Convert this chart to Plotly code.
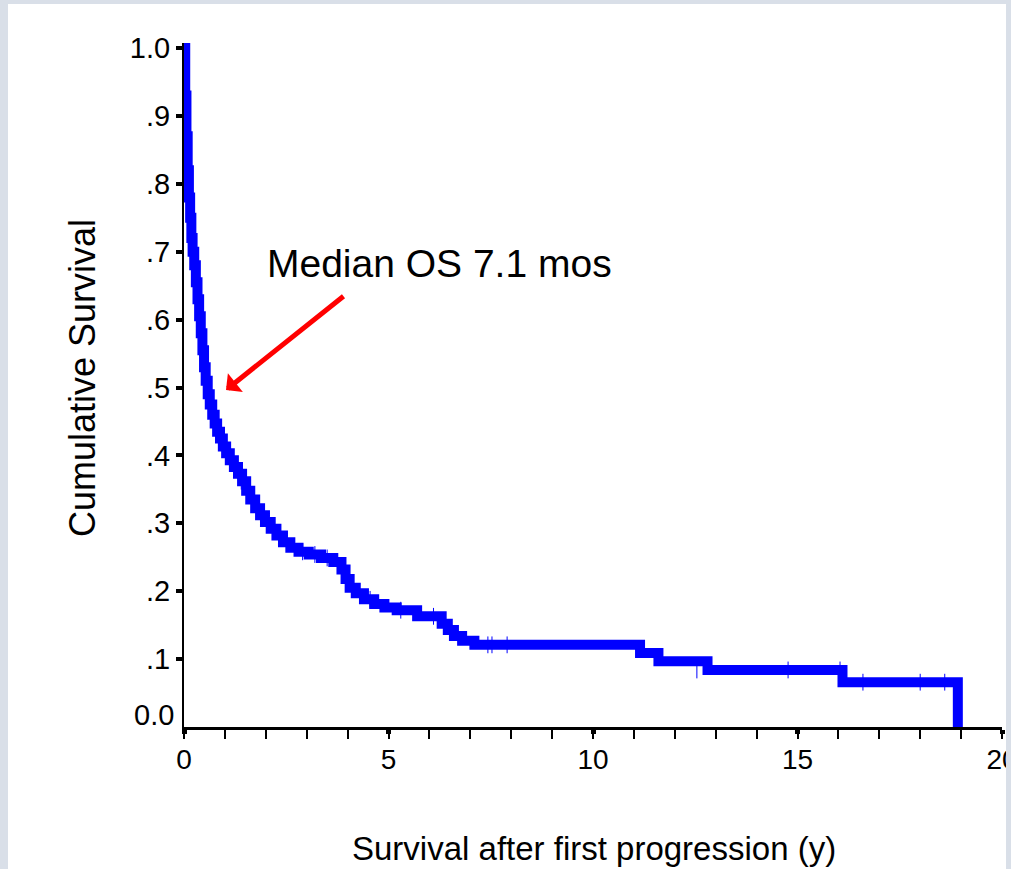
import plotly.graph_objects as go

# Kaplan-Meier steps: event times (years) and survival after each event
event_times = [0.03, 0.06, 0.09, 0.12, 0.15, 0.18, 0.21, 0.25, 0.29, 0.33, 0.37, 0.41,
               0.45, 0.49, 0.53, 0.58, 0.63, 0.69, 0.75, 0.81, 0.88, 0.95, 1.03, 1.12,
               1.22, 1.32, 1.42, 1.52, 1.62, 1.74, 1.86, 1.98, 2.12, 2.26, 2.42, 2.6,
               2.8, 3.05, 3.35, 3.65, 3.85, 3.95, 4.05, 4.2, 4.4, 4.65, 4.9, 5.2, 5.7,
               6.3, 6.45, 6.6, 6.8, 7.1, 11.15, 11.6, 12.8, 16.1, 18.92]
survival = [0.93, 0.87, 0.82, 0.78, 0.75, 0.72, 0.70, 0.68, 0.655, 0.63, 0.605, 0.58,
            0.555, 0.53, 0.51, 0.49, 0.475, 0.46, 0.447, 0.435, 0.425, 0.413, 0.403, 0.393,
            0.383, 0.373, 0.362, 0.348, 0.335, 0.322, 0.312, 0.302, 0.292, 0.282, 0.272, 0.264,
            0.258, 0.254, 0.249, 0.243, 0.232, 0.218, 0.205, 0.197, 0.188, 0.181, 0.176, 0.172, 0.163,
            0.152, 0.143, 0.134, 0.127, 0.121, 0.109, 0.097, 0.084, 0.066, 0.0]

# Censored observations
censor_times = [0.5, 1.4, 2.9, 3.2, 3.5, 4.55, 5.3, 6.1, 7.43, 7.53, 7.9, 12.54, 14.77, 16.04, 16.6, 18.0, 18.6]
censor_surv = [0.53, 0.362, 0.258, 0.254, 0.249, 0.188, 0.172, 0.163, 0.121, 0.121, 0.121, 0.084, 0.084, 0.084, 0.066, 0.066, 0.066]

y_tickvals = [0.1, 0.2, 0.3, 0.4, 0.5, 0.6, 0.7, 0.8, 0.9, 1.0]
y_ticktext = [".1", ".2", ".3", ".4", ".5", ".6", ".7", ".8", ".9", "1.0"]
x_tickvals = [0, 5, 10, 15, 20]
x_ticktext = ["0", "5", "10", "15", "20"]

FONT = "Liberation Sans, Arial, sans-serif"
BLUE = "#0000ff"
BG = "#d9dfe8"

x = [0] + event_times
y = [1.0] + survival

fig = go.Figure()
fig.add_trace(go.Scatter(x=x, y=y, mode="lines", line=dict(color=BLUE, width=10, shape="hv"),
                         showlegend=False, hoverinfo="skip"))
fig.add_trace(go.Scatter(x=censor_times, y=censor_surv, mode="markers",
                         marker=dict(symbol="line-ns", size=12, line=dict(color=BLUE, width=1)),
                         showlegend=False, hoverinfo="skip"))

L, T, R, B = 184, 43, 9, 142
W, H = 1011, 869
pw = W - L - R
ph = H - T - B

def px(xp):
    return (xp - L) / pw

def py(yp):
    return (H - B - yp) / ph

fig.update_layout(
    width=W, height=H,
    margin=dict(l=L, r=R, t=T, b=B, autoexpand=False),
    paper_bgcolor=BG, plot_bgcolor="white",
    font=dict(family=FONT, color="black"),
    xaxis=dict(range=[0, 20], tickvals=x_tickvals, ticktext=x_ticktext,
               ticks="outside", ticklen=4, tickwidth=5, tickcolor="black",
               minor=dict(dtick=1, ticks="outside", ticklen=9, tickwidth=2, tickcolor="black"),
               showline=True, linewidth=3, linecolor="black", showgrid=False, zeroline=False,
               tickfont=dict(size=28), ticklabelstandoff=1, ticklabeloverflow="allow"),
    yaxis=dict(range=[0, 684 / 679], tickvals=y_tickvals, ticktext=y_ticktext,
               ticks="outside", ticklen=6, tickwidth=4, tickcolor="black",
               showline=True, linewidth=2, linecolor="black", showgrid=False, zeroline=False,
               tickfont=dict(size=29)),
)

# white panel and clipped right border
fig.add_shape(type="rect", xref="paper", yref="paper", x0=px(8), x1=px(1006), y0=py(900), y1=py(4),
              fillcolor="white", line=dict(width=0), layer="below")
fig.add_shape(type="rect", xref="paper", yref="paper", x0=px(1006), x1=px(1030), y0=py(900), y1=py(-20),
              fillcolor=BG, line=dict(width=0), layer="above")

# 0.0 label (raised above axis)
fig.add_annotation(text="0.0", xref="paper", yref="y", x=px(176), y=0.018, xanchor="right", yanchor="middle",
                   showarrow=False, font=dict(size=29, family=FONT))
fig.add_annotation(text="Median OS 7.1 mos", xref="x", yref="y", x=(265 - 184) / 40.9, y=(727 - 263) / 679,
                   xanchor="left", yanchor="middle", showarrow=False, font=dict(size=39, family=FONT))
fig.add_annotation(text="", xref="x", yref="y", x=(226 - 184) / 40.9, y=(727 - 390) / 679,
                   ax=119, ay=-95, showarrow=True, arrowhead=1, arrowsize=0.8, arrowwidth=5,
                   arrowcolor="#ff0000", standoff=0, startstandoff=0)
# axis titles
fig.add_annotation(text="Survival after first progression (y)", xref="paper", yref="paper",
                   x=px(594), y=py(848), xanchor="center", yanchor="middle", showarrow=False,
                   font=dict(size=33, family=FONT))
fig.add_annotation(text="Cumulative Survival", xref="paper", yref="paper",
                   x=px(82), y=py(378), xanchor="center", yanchor="middle", showarrow=False,
                   textangle=-90, font=dict(size=36, family=FONT))

fig.write_html("out.html", config={"displayModeBar": False},
               post_script="document.body.style.margin='0px';document.body.style.overflow='hidden';")
